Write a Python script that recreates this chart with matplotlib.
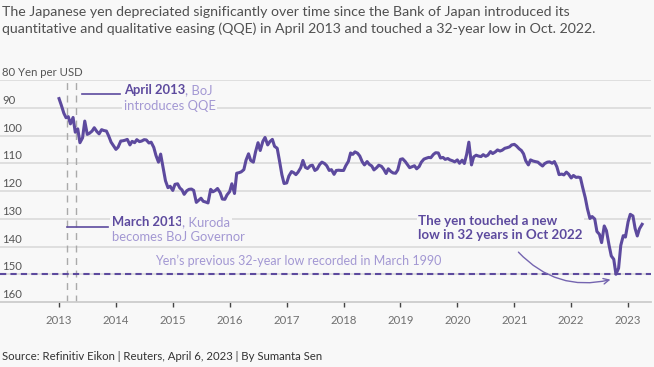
import matplotlib
matplotlib.use("Agg")
from matplotlib import pyplot as plt
import matplotlib.dates as mdates
import matplotlib.transforms as mtransforms
import pandas as pd

plt.rcParams["font.family"] = ["Lato", "DejaVu Sans"]

# USD/JPY, semi-monthly (1st and 15th), Jan 2013 - Apr 2023
y2013 = [86.7, 89.0, 92.0, 93.6, 93.2, 95.8, 93.5, 98.8, 97.6, 102.6, 100.8, 94.8,
         99.6, 99.2, 98.4, 97.2, 98.6, 99.4, 97.9, 98.2, 98.4, 100.1, 102.4, 103.6]
y2014 = [105.0, 104.2, 102.0, 101.9, 101.7, 101.4, 103.4, 102.1, 102.6, 101.5, 102.2, 102.0,
         101.5, 101.6, 102.7, 102.4, 104.3, 107.2, 109.6, 106.7, 111.9, 116.3, 118.8, 118.3]
y2015 = [119.8, 117.6, 117.4, 118.9, 119.6, 121.2, 119.9, 119.4, 119.3, 119.8, 124.1, 123.4,
         122.6, 123.7, 124.0, 124.3, 119.4, 120.3, 119.8, 119.1, 120.6, 122.9, 123.0, 121.4]
y2016 = [120.2, 117.4, 120.9, 113.6, 113.4, 113.1, 112.3, 108.9, 106.6, 109.0, 109.6, 105.9,
         102.6, 105.4, 102.1, 100.7, 103.4, 102.2, 101.4, 103.9, 104.6, 108.9, 114.1, 117.3]
y2017 = [117.1, 114.6, 113.0, 113.4, 114.1, 113.2, 111.6, 109.0, 111.5, 111.9, 110.9, 110.7,
         112.6, 112.1, 110.4, 109.6, 110.1, 110.9, 112.6, 112.3, 114.0, 112.6, 112.5, 112.6]
y2018 = [112.6, 110.9, 109.3, 106.3, 106.8, 105.9, 106.4, 107.4, 109.5, 110.6, 109.4, 110.4,
         111.0, 112.4, 111.6, 110.7, 111.1, 112.1, 113.7, 112.0, 113.0, 113.5, 113.6, 112.4]
y2019 = [108.6, 108.4, 109.4, 110.5, 111.6, 111.3, 110.9, 112.0, 111.2, 109.6, 108.5, 108.2,
         107.9, 108.0, 106.8, 106.2, 106.3, 108.1, 107.9, 108.6, 108.3, 108.8, 109.1, 109.5]
y2020 = [108.8, 110.0, 108.9, 110.1, 106.8, 102.4, 110.6, 107.7, 107.1, 107.4, 107.6, 106.9,
         107.5, 107.1, 105.8, 106.5, 105.9, 105.2, 105.6, 105.3, 104.6, 104.4, 104.1, 103.4]
y2021 = [103.2, 103.8, 104.8, 105.4, 106.6, 109.1, 110.6, 108.8, 109.2, 109.4, 109.6, 110.3,
         111.0, 110.1, 109.6, 109.5, 110.0, 109.4, 111.3, 114.1, 113.9, 114.2, 113.2, 113.9]
y2022 = [115.3, 114.4, 115.1, 115.0, 115.2, 118.6, 122.4, 126.4, 129.9, 129.2, 130.1, 134.6,
         135.6, 138.6, 132.6, 134.3, 139.6, 143.4, 144.6, 150.0, 147.8, 139.6, 136.1, 136.6]
y2023 = [131.1, 128.4, 129.0, 133.5, 136.2, 133.6, 132.0]

yen = y2013 + y2014 + y2015 + y2016 + y2017 + y2018 + y2019 + y2020 + y2021 + y2022 + y2023
dates = pd.date_range("2013-01-01", "2023-04-01", freq="SMS")

years = list(range(2013, 2024))
levels = [80, 90, 100, 110, 120, 130, 140, 150]
low_1990 = 150.0
kuroda_date = pd.Timestamp("2013-02-20")
qqe_date = pd.Timestamp("2013-04-22")

bg = "#f8f8f8"
purple = "#5d4a9e"
light = "#a398d3"

fig = plt.figure(figsize=(6.54, 3.67), dpi=100, facecolor=bg)
ax = fig.add_axes([0, 1 - 302 / 367, 651 / 654, 222 / 367])
ax.set_facecolor(bg)

ax.set_ylim(160, 80)
ax.set_xlim(pd.Timestamp("2011-12-19"), pd.Timestamp("2023-05-28"))

for v in levels:
    ax.axhline(v, color="#dddddd", lw=1.3, zorder=1)

ylab = mtransforms.blended_transform_factory(ax.transAxes, ax.transData)
for v in levels + [160]:
    s = "80 Yen per USD" if v == 80 else str(v)
    ax.annotate(s, xy=(0, v), xycoords=ylab, xytext=(2, 2), textcoords="offset pixels",
                ha="left", va="bottom", fontsize=8.2, color="#555555")

for d in [kuroda_date, qqe_date]:
    ax.axvline(d, color="#aaaaaa", lw=1.0, ls=(0, (5, 4)), zorder=2)

ax.axhline(low_1990, color=purple, lw=1.5, ls=(0, (3, 2)), zorder=3)
ax.plot(dates, yen, color=purple, lw=2.2, zorder=4, solid_joinstyle="round")

# annotations
box = dict(facecolor=bg, edgecolor="none", pad=1)
ax.plot([pd.Timestamp("2013-05-30"), pd.Timestamp("2014-01-28")], [85.15, 85.15],
        color=purple, lw=1.2, zorder=3)
t1 = ax.text(pd.Timestamp("2014-02-20"), 83.6, "April 2013", fontsize=9.4, fontweight="bold",
             color=purple, va="center", ha="left", zorder=5)
ax.annotate(", BoJ", xy=(1, 0), xycoords=t1, va="bottom", ha="left", fontsize=9.4,
            color=light, zorder=5)
ax.text(pd.Timestamp("2014-02-20"), 89.3, "introduces QQE", fontsize=9.4, color=light,
        va="center", ha="left", bbox=box, zorder=5)

ax.plot([pd.Timestamp("2013-02-22"), pd.Timestamp("2013-11-13")], [133.0, 133.0],
        color=purple, lw=1.2, zorder=3)
t2 = ax.text(pd.Timestamp("2013-12-05"), 131.1, "March 2013", fontsize=9.4, fontweight="bold",
             color=purple, va="center", ha="left", bbox=box, zorder=5)
ax.annotate(", Kuroda", xy=(1, 0), xycoords=t2, va="bottom", ha="left", fontsize=9.4,
            color=light, bbox=box, zorder=5)
ax.text(pd.Timestamp("2013-12-05"), 136.7, "becomes BoJ Governor", fontsize=9.4, color=light,
        va="center", ha="left", zorder=5)

ax.text(pd.Timestamp("2017-03-15"), 145.1, "Yen\u2019s previous 32-year low recorded in March 1990",
        fontsize=9.0, color=light, va="center", ha="center", zorder=5)

ax.text(pd.Timestamp("2019-04-23"), 133.4, "The yen touched a new\nlow in 32 years in Oct 2022",
        fontsize=9.6, fontweight="bold", color=purple, va="center", ha="left",
        linespacing=1.2, bbox=box, zorder=5)
ax.annotate("", xy=(pd.Timestamp("2022-09-27"), 151.7), xytext=(pd.Timestamp("2021-01-15"), 141.3),
            arrowprops=dict(arrowstyle="->", color="#7565b0", lw=1.0,
                            connectionstyle="arc3,rad=0.3"), zorder=5)

for s in ["left", "top", "right"]:
    ax.spines[s].set_visible(False)
ax.spines["bottom"].set_color("#cccccc")
ax.spines["bottom"].set_linewidth(1.3)
ax.set_yticks([])
ax.set_xticks([pd.Timestamp(f"{y}-01-01") for y in years])
ax.xaxis.set_major_formatter(mdates.DateFormatter("%Y"))
ax.tick_params(axis="x", length=3.5, width=1, color="#444444", pad=6,
               labelsize=8.2, labelcolor="#707070")

fig.text(2 / 654, 1 - 6 / 367,
         "The Japanese yen depreciated significantly over time since the Bank of Japan introduced its\n"
         "quantitative and qualitative easing (QQE) in April 2013 and touched a 32-year low in Oct. 2022.",
         ha="left", va="top", fontsize=10.2, color="#505050", linespacing=1.45)
fig.text(2 / 654, 1 - 356 / 367, "Source: Refinitiv Eikon | Reuters, April 6, 2023 | By Sumanta Sen",
         ha="left", va="center", fontsize=8.2, color="#333333")

fig.savefig("out.png", dpi=100, facecolor=bg)
